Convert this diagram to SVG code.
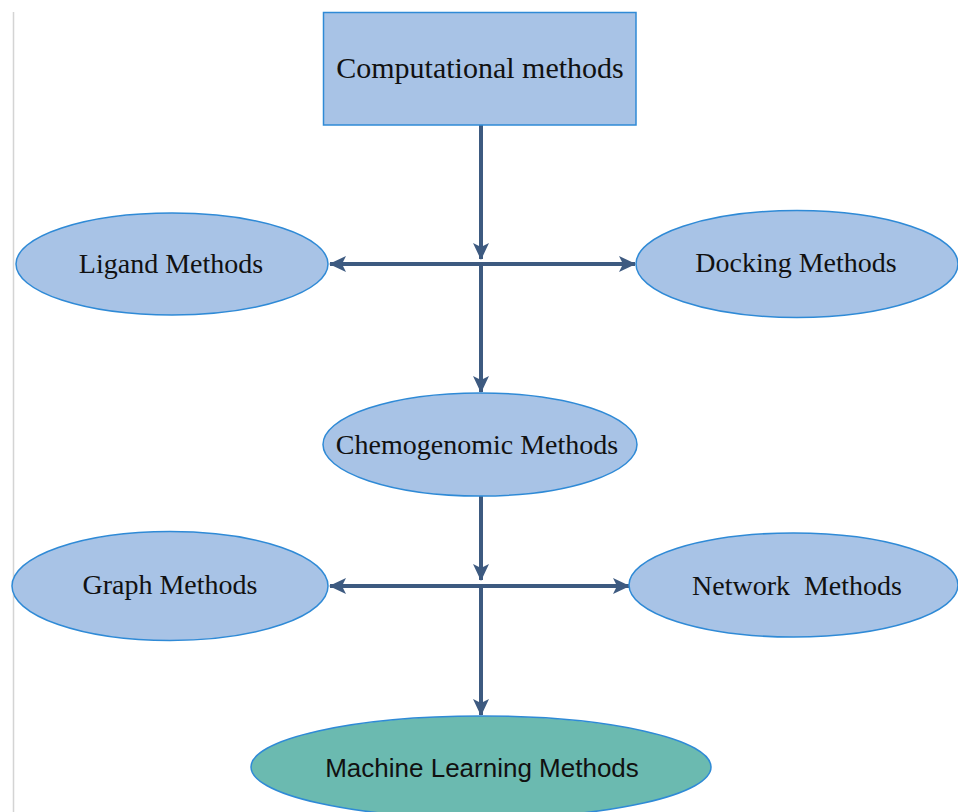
<svg xmlns="http://www.w3.org/2000/svg" width="958" height="812" viewBox="0 0 958 812">
<style>
.node{fill:#a8c3e6;stroke:#2f8ad6;stroke-width:1.5}
.ml{fill:#6bbab0;stroke:#2f8ad6;stroke-width:1.5}
.lbl{font-family:"Liberation Serif","Times New Roman",serif;font-size:28px;fill:#111;text-anchor:middle;white-space:pre}
.lbl2{font-family:"Liberation Sans",Arial,sans-serif;font-size:26px;fill:#111;text-anchor:middle}
.edge{stroke:#3d5a80;stroke-width:4;fill:none}
</style>
<defs>
<marker id="ah" markerUnits="userSpaceOnUse" markerWidth="18" markerHeight="18" refX="16" refY="9" orient="auto-start-reverse" viewBox="0 0 18 18">
<path d="M0,1 L17,9 L0,17 L4,9 Z" fill="#3d5a80"/>
</marker>
</defs>
<line x1="13.5" y1="12" x2="13.5" y2="812" stroke="#d4d4d4" stroke-width="1.5"/>
<g id="connectors">
<line class="edge" x1="481" y1="125" x2="481" y2="259" marker-end="url(#ah)"/>
<line class="edge" x1="330" y1="264" x2="635" y2="264" marker-start="url(#ah)" marker-end="url(#ah)"/>
<line class="edge" x1="481" y1="264" x2="481" y2="392" marker-end="url(#ah)"/>
<line class="edge" x1="481" y1="496" x2="481" y2="580" marker-end="url(#ah)"/>
<line class="edge" x1="330" y1="586" x2="629" y2="586" marker-start="url(#ah)" marker-end="url(#ah)"/>
<line class="edge" x1="481" y1="586" x2="481" y2="715" marker-end="url(#ah)"/>
</g>
<g id="computational">
<rect class="node" x="323.5" y="12.5" width="312.5" height="112.5"/>
<text class="lbl" x="480" y="78" style="font-size:30px">Computational methods</text>
</g>
<g id="ligand">
<ellipse class="node" cx="172" cy="264" rx="156" ry="51"/>
<text class="lbl" x="171" y="273">Ligand Methods</text>
</g>
<g id="docking">
<ellipse class="node" cx="797" cy="264" rx="161" ry="53.5"/>
<text class="lbl" x="796" y="272">Docking Methods</text>
</g>
<g id="chemogenomic">
<ellipse class="node" cx="480" cy="444.5" rx="157" ry="51.5"/>
<text class="lbl" x="477" y="454">Chemogenomic Methods</text>
</g>
<g id="graph">
<ellipse class="node" cx="170" cy="586" rx="158" ry="54.5"/>
<text class="lbl" x="170" y="594">Graph Methods</text>
</g>
<g id="network">
<ellipse class="node" cx="793.5" cy="585" rx="164.5" ry="52"/>
<text class="lbl" x="797" y="595">Network  Methods</text>
</g>
<g id="machine-learning">
<ellipse class="ml" cx="481" cy="767" rx="230" ry="51"/>
<text class="lbl2" x="482" y="777">Machine Learning Methods</text>
</g>
</svg>
